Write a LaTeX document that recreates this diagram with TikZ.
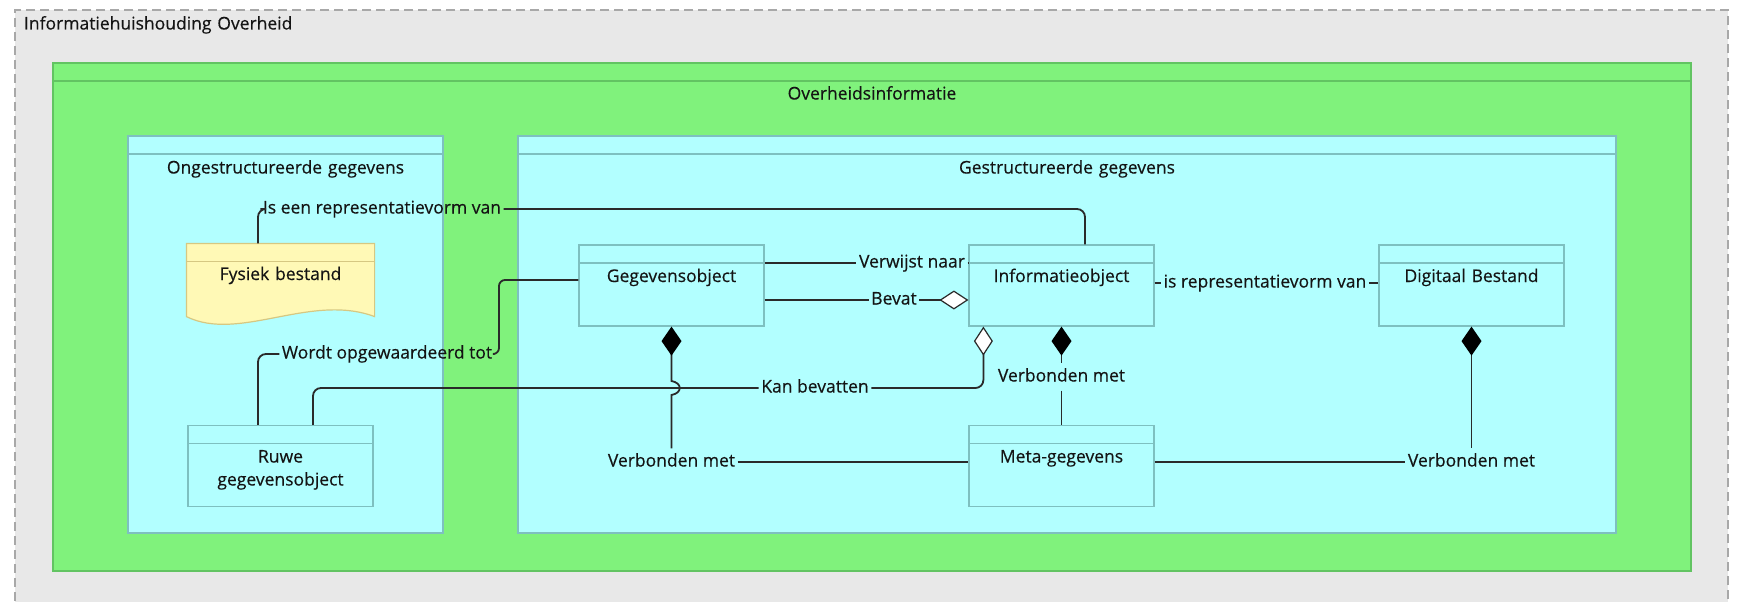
\documentclass[tikz,border=0pt]{standalone}
\usepackage{fontspec}
\setmainfont{Open Sans}[FakeBold=0.35]
\usetikzlibrary{arrows.meta,calc}

\definecolor{grpgray}{RGB}{232,232,232}
\definecolor{grpdash}{RGB}{168,168,168}
\definecolor{ovhgreen}{RGB}{128,242,124}
\definecolor{ovhline}{RGB}{98,196,98}
\definecolor{gegcyan}{RGB}{178,255,255}
\definecolor{gegline}{RGB}{126,192,192}
\definecolor{docyellow}{RGB}{255,249,182}
\definecolor{docline}{RGB}{214,200,130}
\definecolor{relline}{RGB}{42,42,42}
\definecolor{txt}{RGB}{20,20,20}

\tikzset{every picture/.style={line width=1.2pt}}
\tikzset{
	every node/.style={font=\fontsize{17.5}{23}\selectfont, text=txt},
	hdr/.style={path picture={\draw[#1, line width=1.2pt] ($(path picture bounding box.north west)!18pt!(path picture bounding box.south west)$) -- ($(path picture bounding box.north east)!18pt!(path picture bounding box.south east)$);}},
	grp/.style={draw=grpdash, fill=grpgray, line width=1.5pt, dash pattern=on 9pt off 5pt, text width=1695pt, align=left, inner xsep=9pt, inner ysep=0pt, text height=19.5pt, text depth=620.5pt},
	ovhbox/.style={draw=ovhline, fill=ovhgreen, hdr=ovhline, text width=1628pt, align=center, inner xsep=5pt, inner ysep=0pt, text height=36.5pt, text depth=471.5pt},
	container/.style={draw=gegline, fill=gegcyan, hdr=gegline, align=center, inner xsep=5pt, inner ysep=0pt, text height=37.5pt, text depth=359.5pt},
	elem/.style={draw=gegline, fill=gegcyan, hdr=gegline, text width=175pt, align=center, inner xsep=5pt, inner ysep=0pt, text height=37pt, text depth=44pt},
	docbox/.style={minimum width=187pt, minimum height=72pt, inner sep=0pt},
	docshape/.style={draw=docline, fill=docyellow, line width=1.2pt},
	doctext/.style={text width=175pt, align=center, inner sep=0pt, text height=36pt, text depth=36pt},
	rel/.style={draw=relline, line width=1.8pt, rounded corners=8pt},
	rellbl/.style={inner xsep=2pt, inner ysep=5pt, text height=12.5pt, text depth=3.5pt},
	comp/.style={{Diamond[length=29pt,width=20pt,color=black]}-},
	aggr/.style={-{Diamond[length=29pt,width=19pt,fill=white,line width=1.2pt]}}
}

\begin{document}
\begin{tikzpicture}[x=1pt,y=1pt,yscale=-1]
	\path[use as bounding box, fill=white] (0,0) rectangle (1740,602);

	%Shape: Grouping
	\node[grp] (ihh) at (871.5,330) {Informatiehuishouding Overheid};
	%Shape: Grouping
	\node[ovhbox] (ovh) at (872,317) {Overheidsinformatie};
	%Shape: Grouping
	\node[container, text width=305pt] (ong) at (285.5,334.5) {Ongestructureerde gegevens};
	%Shape: Grouping
	\node[container, text width=1088pt] (ges) at (1067,334.5) {Gestructureerde gegevens};

	%Shape: Data Object
	\node[elem] (gobj) at (671.5,285.5) {Gegevensobject};
	\node[elem] (iobj) at (1061.5,285.5) {Informatieobject};
	\node[elem] (dbst) at (1471.5,285.5) {Digitaal Bestand};
	\node[elem] (meta) at (1061.5,466) {Meta-gegevens};
	\node[elem] (ruwe) at (280.5,466) {Ruwe\\gegevensobject};

	%Shape: Representation
	\node[docbox] (fys) at (280.5,280) {};
	\filldraw[docshape] (fys.south west) |- (fys.north east) -- (fys.south east) .. controls +(-64,-24) and +(53,26) .. (fys.south west) -- cycle;
	\draw[docshape] ($(fys.north west)!18pt!(fys.south west)$) -- ($(fys.north east)!18pt!(fys.south east)$);
	\node[doctext] (fyst) at (fys) {Fysiek bestand};

	% Text Node
	\node[rellbl] (ier) at (382,209) {Is een representatievorm van};
	\node[rellbl] (wo) at (387,354) {Wordt opgewaardeerd tot};
	\node[rellbl] (kb) at (815,388) {Kan bevatten};
	\node[rellbl] (vn) at (912,263) {Verwijst naar};
	\node[rellbl] (bv) at (894,300) {Bevat};
	\node[rellbl] (irv) at (1265,283) {is representatievorm van};
	\node[rellbl] (vm1) at (671.5,462) {Verbonden met};
	\node[rellbl] (vm2) at (1061.5,377) {Verbonden met};
	\node[rellbl] (vm3) at (1471.5,462) {Verbonden met};

	\coordinate (wobend) at (499,280);
	\coordinate (jmp) at (gobj.south |- kb.west);

	%Straight Lines
	\draw[rel] ($(fys.north)!22.5pt!(fys.north west)$) |- (ier.west);
	\draw[rel] (ier.east) -| ($(iobj.north)!23.5pt!(iobj.north east)$);
	%Straight Lines
	\draw[rel] ($(ruwe.north)!22.5pt!(ruwe.north west)$) |- (wo.west);
	\draw[rel, rounded corners=6pt] (wo.east) -| (wobend) -- (wobend -| gobj.west);
	%Straight Lines
	\draw[rel] ($(ruwe.north)!32.5pt!(ruwe.north east)$) |- (kb.west);
	\draw[rel, aggr] (kb.east) -| ($(iobj.south west)!15pt!(iobj.south east)$);
	%Straight Lines
	\draw[rel] (vn.west -| gobj.east) -- (vn.west);
	\draw[rel] (vn.east) -- (vn.east -| iobj.west);
	%Straight Lines
	\draw[rel] (bv.west -| gobj.east) -- (bv.west);
	\draw[rel, aggr] (bv.east) -- (bv.east -| iobj.west);
	%Straight Lines
	\draw[rel] (irv.west -| iobj.east) -- (irv.west);
	\draw[rel] (irv.east) -- (irv.east -| dbst.west);

	%Straight Lines
	\draw[rel, sharp corners, comp] (gobj.south) -- ($(jmp)+(0,-7)$) .. controls +(11,2) and +(11,-2) .. ($(jmp)+(0,7)$) -- (vm1.north);
	\draw[rel] (vm1.east) -- (vm1.east -| meta.west);
	%Straight Lines
	\draw[rel, comp] (iobj.south) -- (vm2.north);
	\draw[rel] (vm2.south) -- (meta.north);
	%Straight Lines
	\draw[rel, comp] (dbst.south) -- (vm3.north);
	\draw[rel] (vm3.west -| meta.east) -- (vm3.west);

\end{tikzpicture}
\end{document}
